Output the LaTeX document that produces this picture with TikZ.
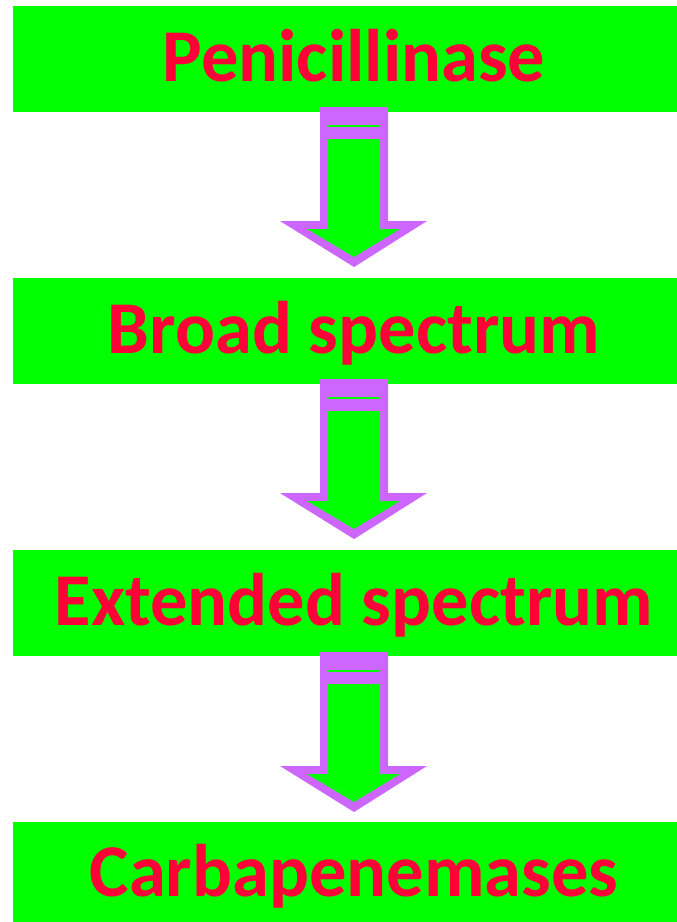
\documentclass[tikz,border=0pt]{standalone}
\usepackage{fontspec}
\setmainfont{Carlito}
\definecolor{boxgreen}{HTML}{00FF00}
\definecolor{labelred}{HTML}{FF0038}
\definecolor{arrowviolet}{HTML}{CC66FF}
\begin{document}
\begin{tikzpicture}[x=1pt,y=-1pt,
  stage/.style={fill=boxgreen, draw=none, minimum width=664pt, minimum height=106pt, inner sep=0pt},
  stagetext/.style={text=labelred, font=\fontsize{74.5}{80}\selectfont\bfseries, anchor=base, inner sep=0pt},
  ]
  \useasboundingbox (0,0) rectangle (677,922);
  % stage boxes
  \node[stage, anchor=north west] (b1) at (13,6) {};
  \node[stage, anchor=north west] (b2) at (13,278) {};
  \node[stage, anchor=north west] (b3) at (13,550) {};
  \node[stage, anchor=north west] (b4) at (13,822) {};
  % labels
  \node[stagetext] (t1) at (354,81) {Penicillinase};
  \node[stagetext] (t2) at (354,353) {Broad spectrum};
  \node[stagetext] (t3) at (354,625) {Extended spectrum};
  \node[stagetext] (t4) at (354,896) {Carbapenemases};
  % block arrows between the stages
  \foreach \dy/\name in {0/a1, 272/a2, 545/a3}{
    \begin{scope}[yshift=-\dy pt]
      \coordinate (\name) at (354,107);
      \fill[arrowviolet] (320,107) -- (388,107) -- (388,221) -- (427,221)
        -- (354,267) -- (280,221) -- (320,221) -- cycle;
      \fill[boxgreen] (328,139) -- (380,139) -- (380,229) -- (400,229)
        -- (354,257) -- (307,229) -- (328,229) -- cycle;
      \fill[boxgreen] (328,125) rectangle (380,127);
    \end{scope}
  }
\end{tikzpicture}
\end{document}
